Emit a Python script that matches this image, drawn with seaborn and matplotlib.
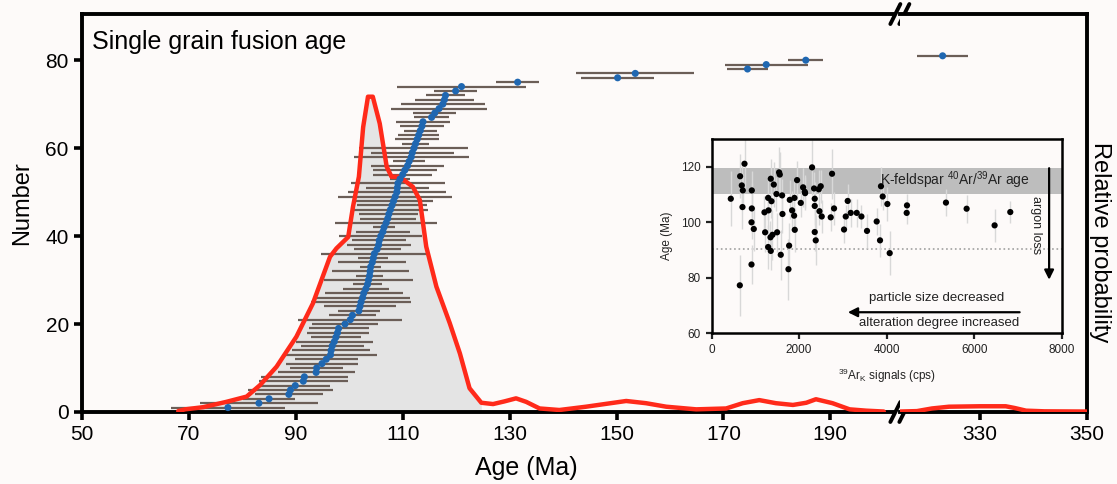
import numpy as np
import pandas as pd
import seaborn as sns
import matplotlib.pyplot as plt

# ---- single grain fusion ages (Ma), sorted, with half error bars ----
grain_age = [77.3, 83.1, 85.0, 88.7, 89.0, 89.9, 91.4, 91.6, 93.8, 93.9,
             94.9, 95.7, 96.5, 96.6, 96.8, 97.2, 97.5, 97.8, 98.0, 99.2,
             100.2, 100.6, 101.8, 102.0, 102.2, 102.5, 102.7, 103.1, 103.4, 103.6,
             103.8, 103.9, 104.0, 104.3, 104.5, 104.7, 105.2, 105.5, 105.6, 105.9,
             106.3, 106.5, 106.9, 107.2, 107.4, 107.7, 108.0, 108.3, 108.6, 108.9,
             109.0, 109.1, 109.5, 110.0, 110.4, 110.9, 111.2, 111.6, 111.8, 112.1,
             112.4, 112.7, 113.0, 113.3, 113.6, 113.8, 115.4, 116.0, 116.8, 117.5,
             117.8, 118.0, 119.9, 121.0, 131.5, 150.2, 153.5, 174.5, 178.0, 185.4,
             323.0]
grain_err = [10.6, 11.1, 4.8, 6.4, 7.9, 6.5, 8.3, 8.1, 7.2, 5.0,
             6.7, 5.9, 8.6, 7.3, 5.9, 7.2, 4.7, 5.8, 5.6, 6.1,
             9.7, 4.4, 3.9, 6.8, 9.3, 8.9, 7.3, 4.3, 2.7, 8.4,
             2.6, 7.2, 2.0, 6.4, 2.8, 10.0, 4.4, 6.0, 5.1, 7.8,
             5.0, 2.0, 9.6, 5.2, 5.5, 7.0, 6.5, 7.3, 10.7, 9.2,
             5.9, 8.8, 1.9, 5.5, 6.0, 6.9, 3.0, 10.8, 7.7, 10.2,
             2.5, 4.1, 3.8, 3.1, 4.2, 5.0, 3.2, 4.0, 8.9, 7.9,
             5.5, 3.7, 4.0, 12.1, 4.0, 6.9, 11.0, 3.9, 7.8, 3.3,
             4.8]
grain_rank = list(range(1, len(grain_age) + 1))

# relative probability curve (scaled to the Number axis)
prob_age = [68, 69.3, 72.7, 77.0, 80.8, 83.3, 86.4, 90.1, 93.2, 96.4,
            97.6, 99.8, 100.7, 101.8, 102.6, 103.5, 104.4, 105.7, 107.0, 107.9,
            109.4, 111.9, 113.2, 114.4, 116.3, 118.8, 120.7, 122.5, 124.7, 126.9,
            129.0, 131.2, 133.1, 135.6, 139.3, 144.3, 151.8, 155.5, 159.3, 164.9,
            170.5, 173.6, 176.7, 179.8, 183.0, 185.5, 187.3, 190.4, 193.6, 196.7,
            200.0]
prob_val = [0.2, 0.6, 1.1, 2.3, 3.5, 6.1, 10.3, 17.1, 24.7, 35.3,
            37.2, 39.8, 46.7, 53.5, 64.8, 71.7, 71.7, 65.6, 55.8, 53.5,
            53.5, 51.2, 48.2, 37.6, 28.5, 20.2, 13.3, 5.4, 2.1, 1.8,
            2.4, 3.1, 2.3, 0.8, 0.45, 1.2, 2.5, 2.0, 1.2, 0.6,
            0.8, 2.0, 2.7, 2.0, 1.6, 2.1, 2.9, 2.0, 0.6, 0.3,
            0.1]
prob_age_hi = [315, 318.2, 321.0, 324.2, 330.0, 334.8, 336.5, 338.6, 342.0, 350.0]
prob_val_hi = [0.1, 0.2, 0.8, 1.2, 1.3, 1.3, 0.9, 0.3, 0.15, 0.1]

# ---- inset: age vs 39ArK signal ----
sig_cps = [440, 653, 753, 691, 714, 707, 646, 920, 920, 913,
           965, 913, 1209, 1301, 1293, 1369, 1353, 1422, 1224, 1293,
           1353, 1346, 1392, 1498, 1483, 1543, 1559, 1612, 1620, 1581,
           1772, 1757, 1787, 1894, 1840, 1886, 1901, 1954, 2038, 2091,
           2129, 2137, 2296, 2342, 2449, 2494, 2357, 2357, 2465, 2517,
           2357, 2380, 2752, 2798, 2722, 3026, 3065, 3110, 3179, 3316,
           3423, 3551, 3772, 3848, 3870, 3909, 4016, 4069, 4464, 4457,
           5354, 5826, 6465, 6823]
sig_age = [108.5, 116.6, 121.1, 113.3, 111.5, 105.5, 77.3, 111.5, 105.0, 100.0,
           97.6, 84.8, 103.6, 104.3, 108.8, 107.6, 115.7, 113.6, 96.4, 91.1,
           89.7, 94.6, 95.5, 96.4, 110.2, 118.0, 117.2, 109.7, 103.0, 88.3,
           91.6, 83.1, 108.1, 108.8, 104.3, 102.4, 97.3, 115.2, 107.0, 112.6,
           111.0, 110.5, 119.8, 112.2, 111.9, 113.0, 108.5, 105.9, 104.0, 102.1,
           96.5, 93.5, 117.5, 105.0, 101.8, 97.4, 102.1, 107.7, 103.4, 103.4,
           102.1, 96.9, 100.3, 93.5, 113.0, 109.3, 106.6, 88.9, 106.1, 103.4,
           107.1, 104.9, 98.9, 103.7]
sig_err = [10, 8, 9, 7, 6, 8, 11, 7, 9, 6,
           8, 7, 6, 7, 8, 6, 7, 8, 7, 8,
           7, 6, 9, 7, 6, 9, 8, 6, 7, 9,
           8, 11, 7, 6, 7, 6, 8, 7, 5, 7,
           6, 6, 10, 6, 7, 6, 6, 7, 5, 6,
           7, 9, 9, 6, 5, 5, 4, 6, 5, 5,
           4, 6, 5, 6, 7, 5, 6, 8, 4, 4,
           5, 5, 6, 4]
kfs_band = (110.3, 119.6)
loss_level = 90.4

grains = pd.DataFrame({'age': grain_age, 'err': grain_err, 'rank': grain_rank})
curve = pd.DataFrame({'age': prob_age, 'p': prob_val})
curve_hi = pd.DataFrame({'age': prob_age_hi, 'p': prob_val_hi})
sig = pd.DataFrame({'cps': sig_cps, 'age': sig_age, 'err': sig_err})

sns.set_style("ticks")
plt.rcParams['font.family'] = ['Liberation Sans', 'DejaVu Sans']
plt.rcParams['mathtext.fontset'] = 'custom'
plt.rcParams['mathtext.rm'] = 'Liberation Sans'
plt.rcParams['mathtext.it'] = 'Liberation Sans:italic'
plt.rcParams['text.color'] = 'black'
plt.rcParams['axes.labelcolor'] = 'black'
plt.rcParams['axes.edgecolor'] = 'black'
plt.rcParams['xtick.color'] = 'black'
plt.rcParams['ytick.color'] = 'black'

bg = '#fdfaf9'
fig = plt.figure(figsize=(11.17, 4.84), dpi=100, facecolor=bg)
gs = fig.add_gridspec(1, 2, width_ratios=[153, 35], left=0.0734, right=0.9731,
                      top=0.971, bottom=0.1488, wspace=0)
axL = fig.add_subplot(gs[0])
axR = fig.add_subplot(gs[1], sharey=axL)

for ax, cv in ((axL, curve), (axR, curve_hi)):
    ax.set_facecolor(bg)
    fill = cv[cv['age'] <= 125]
    ax.fill_between(fill['age'], fill['p'], color='#e4e4e4', lw=0, zorder=1)
    ax.hlines(grains['rank'], grains['age'] - grains['err'], grains['age'] + grains['err'],
              color='#6b5e57', lw=1.6, zorder=2)
    sns.lineplot(data=cv, x='age', y='p', color='#ff2a1a', lw=3.2, sort=False,
                 estimator=None, ax=ax, zorder=3)
    sns.scatterplot(data=grains, x='age', y='rank', color='#1f67b1', s=26,
                    edgecolor='none', ax=ax, zorder=4)
    for s in ax.spines.values():
        s.set_linewidth(2.8)
        s.set_color('black')
    ax.tick_params(width=2.6, length=6, labelsize=15, color='black',
                   labelcolor='black', direction='out')
    ax.set_xlabel('')
    ax.set_ylabel('')

axL.set_xlim(50, 203)
axR.set_xlim(315, 350)
axL.set_ylim(0, 90.5)
axL.set_xticks(range(50, 191, 20))
axR.set_xticks([330, 350])
axL.set_yticks([0, 20, 40, 60, 80])
axL.spines['right'].set_visible(False)
axR.spines['left'].set_visible(False)
axR.tick_params(left=False, labelleft=False)

# break marks
wpx = 0.8997 * 1117 * 153 / 188
hpx = (0.971 - 0.1488) * 484
dx, dy, gap = 5 / wpx, 10 / hpx, 4.5 / wpx
for yb in (0, 1):
    axL.plot([1 - dx, 1 + dx], [yb - dy, yb + dy], transform=axL.transAxes,
             color=bg, lw=6, clip_on=False, zorder=10, solid_capstyle='butt')
    for off in (-gap, gap):
        axL.plot([1 - dx + off, 1 + dx + off], [yb - dy, yb + dy], transform=axL.transAxes,
                 color='black', lw=2.8, clip_on=False, zorder=11)

axL.text(0.012, 0.93, 'Single grain fusion age', transform=axL.transAxes,
         fontsize=18, va='center', ha='left')
fig.text(0.471, 0.033, 'Age (Ma)', fontsize=18, ha='center', va='center')
fig.text(0.02, 0.58, 'Number', fontsize=17, rotation=90, ha='center', va='center')
fig.text(0.985, 0.5, 'Relative probability', fontsize=17, rotation=270,
         ha='center', va='center')

# ---- inset ----
ax_in = fig.add_axes([0.637, 0.3113, 0.3136, 0.4014])
ax_in.set_facecolor(bg)
ax_in.axhspan(*kfs_band, color='#bdbdbd', lw=0, zorder=0)
ax_in.axhline(loss_level, ls=':', color='#a0a0a0', lw=1.2, zorder=0)
ax_in.vlines(sig['cps'], sig['age'] - sig['err'], sig['age'] + sig['err'],
             color='#d8d8d8', lw=1, zorder=1)
sns.scatterplot(data=sig, x='cps', y='age', color='black', s=20, edgecolor='none',
                ax=ax_in, zorder=3)
ax_in.set_xlim(0, 8000)
ax_in.set_ylim(60, 130)
ax_in.set_xticks([0, 2000, 4000, 6000, 8000])
ax_in.set_yticks([60, 80, 100, 120])
for s in ax_in.spines.values():
    s.set_linewidth(1.8)
    s.set_color('black')
ax_in.tick_params(width=1.6, length=4, labelsize=8.5, colors='#222222')
ax_in.set_xlabel(r'$^{39}$Ar$_{\rm K}$ signals (cps)', fontsize=8.5, labelpad=8, color='#222222')
ax_in.set_ylabel('Age (Ma)', fontsize=8.5, labelpad=6, color='#222222')
ax_in.text(5550, 115, r'K-feldspar $^{40}$Ar/$^{39}$Ar age', fontsize=10,
           ha='center', va='center', color='#222222')
ax_in.annotate('', xy=(7710, 78.3), xytext=(7710, 120.5),
               arrowprops=dict(arrowstyle='-|>', lw=1.6, color='black', mutation_scale=14))
ax_in.text(7420, 99, 'argon loss', rotation=-90, fontsize=9, ha='center', va='center',
           color='#222222')
ax_in.annotate('', xy=(3050, 67.6), xytext=(7100, 67.6),
               arrowprops=dict(arrowstyle='-|>', lw=1.6, color='black', mutation_scale=14))
ax_in.text(5140, 72.9, 'particle size decreased', fontsize=9.5, ha='center', va='center',
           color='#222222')
ax_in.text(5200, 63.6, 'alteration degree increased', fontsize=9.5, ha='center',
           va='center', color='#222222')

fig.savefig('out.png', dpi=100, facecolor=bg)
